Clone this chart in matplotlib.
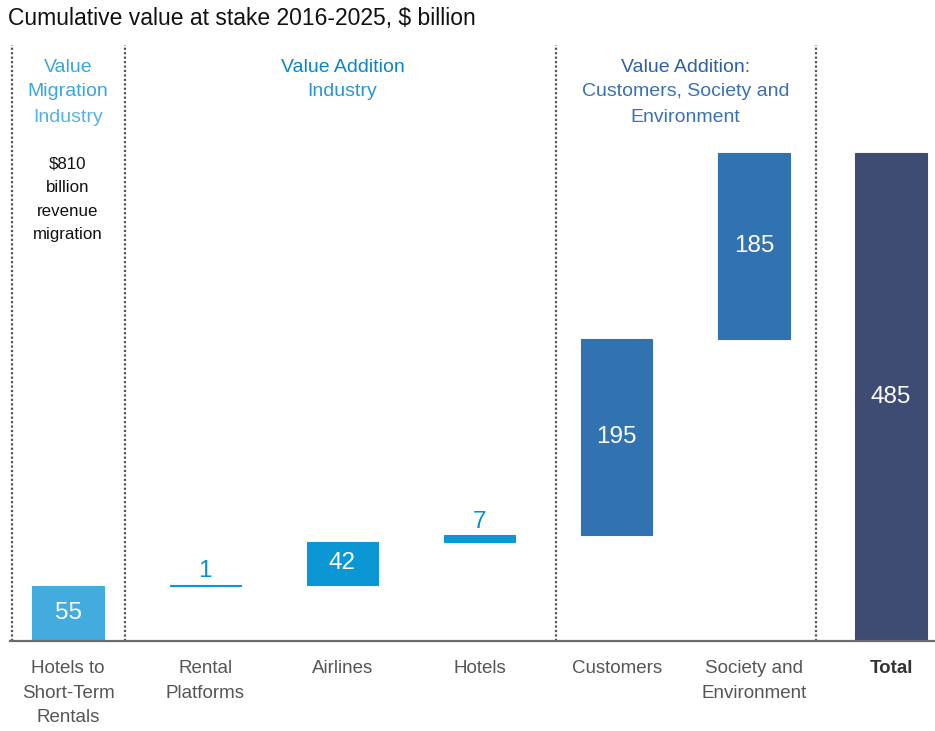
import numpy as np
import matplotlib
matplotlib.use("Agg")
import matplotlib.pyplot as plt

plt.rcParams['font.family'] = ['Liberation Sans', 'DejaVu Sans']

# waterfall data ($ billion)
categories = ["Hotels to\nShort-Term\nRentals", "Rental\nPlatforms", "Airlines",
              "Hotels", "Customers", "Society and\nEnvironment", "Total"]
values = [55, 1, 42, 7, 195, 185, 485]
is_total = [False, False, False, False, False, False, True]
bar_colors = ["#42acde", "#0a97d4", "#0a97d4", "#0a97d4", "#3173b0", "#3173b0", "#3e4c74"]
label_inside = [True, False, True, False, True, True, True]

# separators between groups (in bar-index units)
separators = [-0.41, 0.415, 3.56, 5.45]

bottoms = []
running = 0
for v, t in zip(values, is_total):
    if t:
        bottoms.append(0)
    else:
        bottoms.append(running)
        running += v

fig = plt.figure(figsize=(9.35, 7.31), dpi=100)
ax = fig.add_axes([10 / 935, 90 / 731, 925 / 935, 596 / 731])

x = np.arange(len(values))
ax.bar(x, values, bottom=bottoms, width=0.52, color=bar_colors,
       edgecolor=bar_colors, linewidth=0.8)

for i, (v, b) in enumerate(zip(values, bottoms)):
    if label_inside[i]:
        ax.text(i, b + v / 2, str(v), ha="center", va="center", color="white", fontsize=17.5)
    else:
        ax.annotate(str(v), (i, b + v), xytext=(0, 2), textcoords="offset points",
                    ha="center", va="bottom", color="#0a8fd0", fontsize=17.5)

for s in separators:
    ax.axvline(s, color="#555555", lw=1.6, linestyle=(0, (1, 1)), clip_on=False)
ax.axhline(0, color="#6b6b6b", lw=1.6, clip_on=False, zorder=3)

ax.set_xlim(-0.423, 6.32)
ax.set_ylim(0, 592)
for sp in ax.spines.values():
    sp.set_visible(False)
ax.set_yticks([])
ax.set_xticks(x)
ax.set_xticklabels(categories, fontsize=13.5, color="#555555", linespacing=1.55)
ax.tick_params(axis="x", length=0, pad=14)
ax.get_xticklabels()[-1].set_color("#333333")
ax.get_xticklabels()[-1].set_fontweight("bold")

# group headers
tr = ax.get_xaxis_transform()
def ypos(py):
    return (641 - py) / 596

ax.text(0, ypos(67), "Value", transform=tr, ha="center", va="center", fontsize=14, color="#3aa6dc")
ax.text(0, ypos(92), "Migration", transform=tr, ha="center", va="center", fontsize=14, color="#3aa6dc")
ax.text(0, ypos(117), "Industry", transform=tr, ha="center", va="center", fontsize=14, color="#55b3e2")
ax.text(2, ypos(67), "Value Addition", transform=tr, ha="center", va="center", fontsize=14, color="#0a86c8")
ax.text(2, ypos(92), "Industry", transform=tr, ha="center", va="center", fontsize=14, color="#2a95d0")
ax.text(4.5, ypos(67), "Value Addition:", transform=tr, ha="center", va="center", fontsize=14, color="#2e5fa0")
ax.text(4.5, ypos(92), "Customers, Society and", transform=tr, ha="center", va="center", fontsize=14, color="#3b70b2")
ax.text(4.5, ypos(117), "Environment", transform=tr, ha="center", va="center", fontsize=14, color="#3b70b2")

for py, line in zip([164, 188, 211, 234], ["$810", "billion", "revenue", "migration"]):
    ax.text(0, ypos(py), line, transform=tr, ha="center", va="center", fontsize=12.2, color="#111111")

fig.text(8 / 935, 1 - 19 / 731, "Cumulative value at stake 2016-2025, $ billion",
         ha="left", va="center", fontsize=16.5, color="#111111")

fig.savefig("out.png", dpi=100)
